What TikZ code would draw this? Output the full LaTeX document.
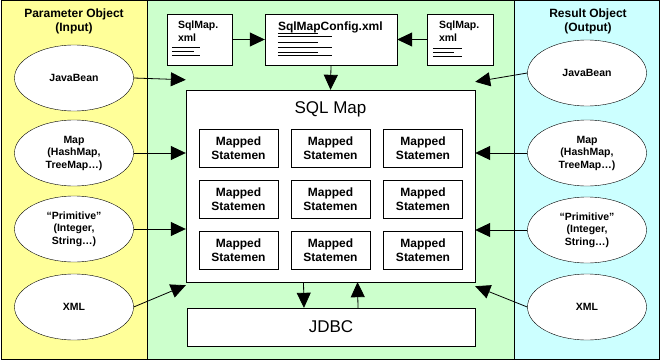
\documentclass[tikz,border=0pt]{standalone}
\usepackage{fontspec}
\setmainfont{Liberation Sans}
\usetikzlibrary{positioning,arrows.meta,shapes.geometric,calc}
\definecolor{inbg}{HTML}{FFFF99}
\definecolor{mapbg}{HTML}{CCFFCC}
\definecolor{outbg}{HTML}{CCFFFF}

\begin{document}
\begin{tikzpicture}[
  x=1pt, y=-1pt,
  font=\fontsize{10.5}{12.5}\selectfont\bfseries,
  panel/.style={draw, line width=1pt},
  paneltitle/.style={align=center, font=\fontsize{12}{14}\selectfont\bfseries},
  obj/.style={draw, ellipse, fill=white, minimum width=119pt, minimum height=66pt, inner sep=0pt, align=center},
  xmlbox/.style={draw, fill=white, minimum height=51pt, inner sep=0pt},
  doctext/.style={anchor=north west, align=left, inner sep=0pt},
  stmt/.style={draw, fill=white, minimum width=79pt, minimum height=38pt, inner sep=0pt, align=center, font=\fontsize{12}{14}\selectfont\bfseries},
  bigbox/.style={draw, fill=white, inner sep=0pt, font=\fontsize{17}{20}\selectfont},
  arrow/.style={-{Triangle[length=15pt,width=14pt]}, line width=0.8pt},
  docline/.style={line width=0.6pt}
]
\useasboundingbox (0,0) rectangle (661,361);

% background panels
\filldraw[panel, fill=inbg] (1,1) rectangle (147,359);
\filldraw[panel, fill=mapbg] (147,1) rectangle (514,359);
\filldraw[panel, fill=outbg] (514,1) rectangle (659,359);

\node[paneltitle] (intitle) at (74,21) {Parameter Object\\(Input)};
\node[paneltitle] (outtitle) at (588,21) {Result Object\\(Output)};

% input objects
\node[obj] (beanIn) at (74,78) {JavaBean};
\node[obj] (mapIn) at (74,153) {Map\\(HashMap,\\TreeMap…)};
\node[obj] (primIn) at (74,229) {“Primitive”\\(Integer,\\String…)};
\node[obj] (xmlIn) at (74,307) {XML};

% output objects
\node[obj] (beanOut) at (587,73) {JavaBean};
\node[obj] (mapOut) at (587,153) {Map\\(HashMap,\\TreeMap…)};
\node[obj] (primOut) at (587,230) {“Primitive”\\(Integer,\\String…)};
\node[obj] (xmlOut) at (587,307) {XML};

% config files
\node[xmlbox, minimum width=65pt] (mapA) at (199.5,39.5) {};
\node[xmlbox, minimum width=132pt] (config) at (331,39.5) {};
\node[xmlbox, minimum width=66pt] (mapB) at (460,39.5) {};
\node[doctext] (mapAtxt) at ([shift={(11,7)}]mapA.north west) {SqlMap.\\xml};
\node[doctext] (mapBtxt) at ([shift={(12,7)}]mapB.north west) {SqlMap.\\xml};
\node[doctext, font=\fontsize{12}{14}\selectfont\bfseries] (configtxt) at ([shift={(13,8)}]config.north west) {SqlMapConfig.xml};
\foreach \y/\l in {34/28, 38/22, 42/28}
  \draw[docline] ([shift={(5,\y)}]mapA.north west) -- ++(\l,0);
\foreach \y/\l in {35/29, 39/21, 43/29}
  \draw[docline] ([shift={(6,\y)}]mapB.north west) -- ++(\l,0);
\foreach \y/\l in {20/40, 23/54, 29/40, 34/54, 39/40, 42/54}
  \draw[docline] ([shift={(13,\y)}]config.north west) -- ++(\l,0);

% sql map with mapped statements
\node[bigbox, minimum width=289pt, minimum height=192pt] (sqlmap) at (330.5,186) {};
\node[font=\fontsize{17}{20}\selectfont] (sqltitle) at (330.5,109) {SQL Map};
\foreach \r/\y in {1/148, 2/199, 3/250}
  \foreach \c/\x in {1/238.5, 2/330.5, 3/423}
    \node[stmt] (ms\r\c) at (\x,\y) {Mapped\\Statemen};

\node[bigbox, minimum width=288pt, minimum height=38pt] (jdbc) at (331,327) {JDBC};

% connectors
\draw[arrow] (mapA.east) -- (config.west);
\draw[arrow] (mapB.west) -- (config.east);
\draw[arrow] (config.south) -- (sqlmap.north);

\draw[arrow] (beanIn.east) -- ([yshift=10]sqlmap.north west);
\draw[arrow] (mapIn.east) -- (mapIn.east -| sqlmap.west);
\draw[arrow] (primIn.east) -- (primIn.east -| sqlmap.west);
\draw[arrow] (xmlIn.east) -- ([yshift=-3]sqlmap.south west);

\draw[arrow] (beanOut.west) -- ([yshift=8]sqlmap.north east);
\draw[arrow] (mapOut.west) -- (mapOut.west -| sqlmap.east);
\draw[arrow] (primOut.west) -- (primOut.west -| sqlmap.east);
\draw[arrow] (xmlOut.west) -- ([yshift=-4]sqlmap.south east);

\draw[arrow] ([xshift=-27]sqlmap.south) -- ([xshift=-27]jdbc.north);
\draw[arrow] ([xshift=27]jdbc.north) -- ([xshift=27]sqlmap.south);
\end{tikzpicture}
\end{document}
